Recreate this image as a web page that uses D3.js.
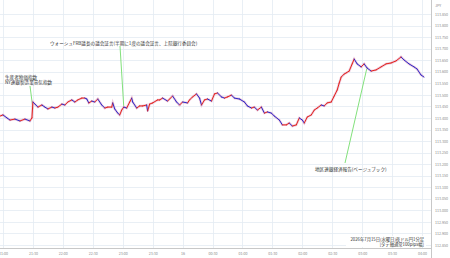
<!DOCTYPE html>
<html lang="ja">
<head>
<meta charset="utf-8">
<title>USDJPY 1min</title>
<style>
body { margin: 0; background: #fff; }
#chart text { font-family: "Noto Sans CJK JP", "Noto Sans", sans-serif; }
.axis text { fill: #8a8a8a; font-size: 3.6px; }
.note { fill: #333; font-size: 4.6px; }
</style>
</head>
<body>
<div id="chart"></div>
<script src="https://cdnjs.cloudflare.com/ajax/libs/d3/7.8.5/d3.min.js"></script>
<script>
// 1-minute closes (JST, 15th evening -> 16th morning)
var times = ["20:57","21:00","21:04","21:07","21:12","21:17","21:22","21:27","21:29","21:30",
  "21:32","21:35","21:39","21:42","21:45","21:49","21:52","21:55","21:59","22:02",
  "22:05","22:09","22:12","22:15","22:19","22:22","22:24","22:26","22:29","22:32",
  "22:35","22:39","22:42","22:45","22:49","22:50","22:52","22:55","22:57","22:59",
  "23:01","23:04","23:07","23:09","23:10","23:14","23:17","23:20","23:24","23:25",
  "23:27","23:30","23:35","23:37","23:40","23:45","23:47","23:50","23:54","23:57",
  "00:00","00:05","00:07","00:10","00:14","00:17","00:19","00:22","00:25","00:29",
  "00:32","00:35","00:39","00:42","00:45","00:49","00:52","00:57","01:02","01:05",
  "01:09","01:12","01:15","01:19","01:22","01:25","01:29","01:32","01:37","01:40",
  "01:44","01:47","01:50","01:54","01:57","02:00","02:02","02:05","02:09","02:12",
  "02:15","02:19","02:22","02:25","02:29","02:32","02:35","02:37","02:39","02:42",
  "02:44","02:47","02:50","02:52","02:55","02:59","03:02","03:05","03:09","03:14",
  "03:19","03:24","03:29","03:34","03:39","03:42","03:47","03:52","03:55","03:59","04:02"];
var prices = [113.408,113.413,113.400,113.391,113.395,113.387,113.395,113.387,113.400,113.469,
  113.460,113.447,113.456,113.447,113.439,113.447,113.443,113.447,113.460,113.456,
  113.469,113.478,113.469,113.478,113.486,113.486,113.482,113.465,113.473,113.469,
  113.482,113.456,113.443,113.447,113.447,113.465,113.439,113.421,113.413,113.434,
  113.447,113.443,113.469,113.486,113.469,113.443,113.452,113.452,113.456,113.430,
  113.460,113.465,113.478,113.478,113.486,113.473,113.482,113.495,113.469,113.456,
  113.469,113.465,113.478,113.491,113.504,113.486,113.456,113.478,113.482,113.473,
  113.504,113.508,113.491,113.486,113.491,113.499,113.486,113.482,113.469,113.452,
  113.443,113.447,113.434,113.447,113.421,113.426,113.421,113.408,113.391,113.370,
  113.370,113.378,113.365,113.370,113.400,113.391,113.378,113.404,113.413,113.434,
  113.443,113.456,113.452,113.465,113.469,113.495,113.521,113.551,113.577,113.590,
  113.595,113.603,113.634,113.655,113.634,113.621,113.634,113.616,113.603,113.608,
  113.621,113.634,113.638,113.647,113.664,113.651,113.634,113.621,113.612,113.586,113.577];

var yTicks = [112.85,112.90,112.95,113.00,113.05,113.10,113.15,113.20,113.25,113.30,
  113.35,113.40,113.45,113.50,113.55,113.60,113.65,113.70,113.75,113.80,113.85];
var xTicks = ["21:00","21:30","22:00","22:30","23:00","23:30","00:00","00:30","01:00",
  "01:30","02:00","02:30","03:00","03:30","04:00"];

var eventTexts = [
  ["生産者物価指数", "NY連銀製造業景気指数"],
  ["ウォーシュFRB議長の議会証言(半期に1度の議会証言、上院銀行委員会)"],
  ["地区連銀経済報告(ベージュブック)"]
];
var eventTimes = ["21:30", "23:01", "03:05"];
var eventPrices = [113.440, 113.452, 113.620];

var caption = ["2026年7月15日(水曜日)夜ドル円1分足", "[タテ軸通常100pips幅]"];

function toDate(s) {
  var hm = s.split(":").map(Number);
  return new Date(2026, 6, hm[0] < 12 ? 16 : 15, hm[0], hm[1]);
}

var W = 450, H = 258;
var plotR = 431, plotB = 248;

var x = d3.scaleTime()
  .domain([toDate("21:00"), toDate("04:00")])
  .range([3, 422]);
var y = d3.scaleLinear()
  .domain([112.85, 113.85])
  .range([245, 14]);

var data = times.map(function(t, i) { return { t: toDate(t), p: prices[i] }; });

var svg = d3.select('#chart').append('svg')
  .attr('width', W).attr('height', H);

var defs = svg.append('defs');
defs.append('clipPath').attr('id', 'plot')
  .append('rect').attr('x', 0).attr('y', 0).attr('width', plotR).attr('height', plotB);
defs.append('clipPath').attr('id', 'xlab')
  .append('rect').attr('x', 0).attr('y', -2).attr('width', plotR).attr('height', 12);

var plot = svg.append('g').attr('clip-path', 'url(#plot)');

// grid
plot.selectAll('.hg').data(yTicks).enter().append('line')
  .attr('x1', 0).attr('x2', plotR)
  .attr('y1', function(d) { return Math.round(y(d)) + 0.5; })
  .attr('y2', function(d) { return Math.round(y(d)) + 0.5; })
  .attr('stroke', '#e3ebf2').attr('stroke-width', 0.8);
plot.selectAll('.vg').data(xTicks).enter().append('line')
  .attr('x1', function(d) { return Math.round(x(toDate(d))) + 0.5; })
  .attr('x2', function(d) { return Math.round(x(toDate(d))) + 0.5; })
  .attr('y1', 0).attr('y2', plotB)
  .attr('stroke', '#e3ebf2').attr('stroke-width', 0.8);

// pointer lines
var starts = [[30, 86], [120, 46], [345, 163]];
eventTimes.forEach(function(t, i) {
  plot.append('line')
    .attr('x1', starts[i][0]).attr('y1', starts[i][1])
    .attr('x2', x(toDate(t))).attr('y2', y(eventPrices[i]))
    .attr('stroke', '#74dd6c').attr('stroke-width', 0.9);
});

// faint wick band under the price line
var line = d3.line().x(function(d) { return x(d.t); }).y(function(d) { return y(d.p); });
plot.append('path').datum(data)
  .attr('d', line)
  .attr('fill', 'none')
  .attr('stroke', '#e7b3cf')
  .attr('stroke-width', 2.4)
  .attr('opacity', 0.7);

// up = red, down = blue
plot.selectAll('.seg').data(d3.pairs(data)).enter().append('line')
  .attr('x1', function(d) { return x(d[0].t); })
  .attr('y1', function(d) { return y(d[0].p); })
  .attr('x2', function(d) { return x(d[1].t); })
  .attr('y2', function(d) { return y(d[1].p); })
  .attr('stroke', function(d) { return d[1].p >= d[0].p ? '#e3241c' : '#2727c9'; })
  .attr('stroke-width', 1.0)
  .attr('stroke-linecap', 'round');

// notes
var notePos = [[5, 78.5], [50, 44.5], [315, 171]];
eventTexts.forEach(function(lines, i) {
  lines.forEach(function(s, j) {
    svg.append('text').attr('class', 'note')
      .attr('x', notePos[i][0]).attr('y', notePos[i][1] + j * 5.6)
      .text(s);
  });
});

// caption bottom right
var cap = svg.append('g');
cap.append('rect').attr('x', 346).attr('y', 236).attr('width', 80).attr('height', 11).attr('fill', '#fff');
caption.forEach(function(s, j) {
  cap.append('text').attr('class', 'note')
    .attr('x', 424).attr('y', 240.8 + j * 5.2)
    .attr('text-anchor', 'end')
    .style('font-size', '4.3px')
    .text(s);
});

// x axis
var xa = svg.append('g').attr('class', 'axis')
  .attr('transform', 'translate(0,' + plotB + ')')
  .call(d3.axisBottom(x)
    .tickValues(xTicks.map(toDate))
    .tickSize(0)
    .tickPadding(4.5)
    .tickFormat(function(d) { return d.getHours() === 0 && d.getMinutes() === 0 ? '16' : d3.timeFormat('%H:%M')(d); }));
xa.select('.domain').attr('stroke', '#c8c8c8').attr('d', 'M0,0.5H' + plotR);
xa.selectAll('.tick text').attr('clip-path', null);
xa.attr('clip-path', 'url(#xlab)');

// y axis on the right
var ya = svg.append('g').attr('class', 'axis')
  .attr('transform', 'translate(' + plotR + ',0)')
  .call(d3.axisRight(y)
    .tickValues(yTicks)
    .tickSize(0)
    .tickPadding(4)
    .tickFormat(d3.format('.3f')));
ya.select('.domain').attr('stroke', '#c8c8c8').attr('d', 'M0.5,0V' + H);

svg.append('text').attr('class', 'axis')
  .attr('x', 435).attr('y', 6.5)
  .style('fill', '#8a8a8a').style('font-size', '3.6px')
  .text('JPY');
</script>
</body>
</html>
